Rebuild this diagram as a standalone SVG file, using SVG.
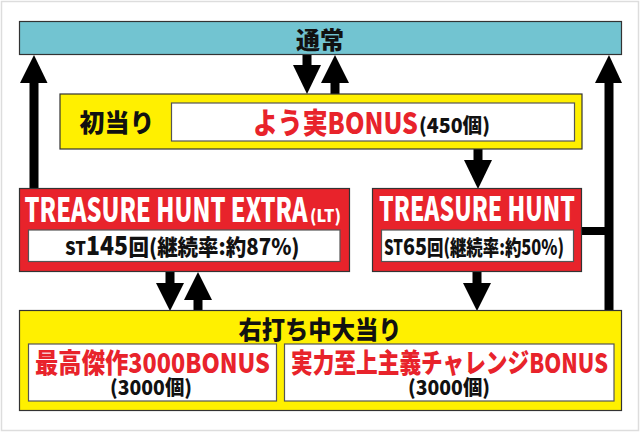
<svg xmlns="http://www.w3.org/2000/svg" width="640" height="432" viewBox="0 0 640 432">
<style>
text{font-family:"Noto Sans CJK JP","Noto Sans",sans-serif;font-weight:900}
.blk{fill:#111}
.red{fill:#E8232B}
.wht{fill:#fff}
.box{stroke:#333;stroke-width:1.2}
.inner{fill:#fff;stroke:#555;stroke-width:1.2}
.arr{fill:#000}
</style>
<rect x="1.5" y="1.5" width="637" height="429" fill="#fff" stroke="#ddd" stroke-width="1.5"/>

<g id="connectors" class="arr">
  <rect x="29.5" y="82" width="9" height="107"/>
  <polygon points="20,83 47.5,83 34,55"/>
  <rect x="302.5" y="54" width="9" height="12"/>
  <polygon points="293,65 321,65 307,94"/>
  <rect x="330.5" y="82" width="9" height="13"/>
  <polygon points="321,83 349,83 335,55"/>
  <rect x="473.5" y="149" width="9" height="12"/>
  <polygon points="464,160 492,160 478,189"/>
  <rect x="165.5" y="271" width="9" height="13"/>
  <polygon points="156,283 184,283 170,311"/>
  <rect x="193.5" y="299" width="9" height="12"/>
  <polygon points="184,300 212,300 198,272"/>
  <rect x="472.5" y="271" width="9" height="13"/>
  <polygon points="463,283 491,283 477,311"/>
  <rect x="604.5" y="82" width="9" height="229"/>
  <polygon points="595,83 622,83 609,55"/>
  <rect x="581" y="227" width="28" height="8"/>
</g>

<g id="tsujo">
  <rect class="box" x="19.5" y="21.5" width="602" height="33" fill="#72C4D1"/>
  <text class="blk" x="320" y="49" font-size="24" text-anchor="middle">通常</text>
</g>

<g id="hatsuatari">
  <rect class="box" x="60" y="94" width="522" height="55" fill="#FFF000"/>
  <text class="blk" x="117" y="132" font-size="25" text-anchor="middle">初当り</text>
  <rect class="inner" x="171.5" y="103" width="403" height="38"/>
  <text class="red" x="253" y="134" font-size="29" textLength="165" lengthAdjust="spacingAndGlyphs">よう実BONUS</text>
  <text class="blk" x="419" y="133" font-size="20" textLength="71" lengthAdjust="spacingAndGlyphs">(450個)</text>
</g>

<g id="th-extra">
  <rect class="box" x="19.5" y="188.5" width="330" height="83" fill="#E8232B"/>
  <text class="wht" x="24.5" y="222" font-size="33" textLength="283" lengthAdjust="spacingAndGlyphs">TREASURE HUNT EXTRA</text>
  <text class="wht" x="310" y="222" font-size="17" textLength="31" lengthAdjust="spacingAndGlyphs">(LT)</text>
  <rect class="inner" x="28.5" y="230" width="311.5" height="31.5"/>
  <text class="blk" x="65" y="255" font-size="19" textLength="21" lengthAdjust="spacingAndGlyphs">ST</text>
  <text class="blk" x="86" y="255" font-size="26" textLength="42" lengthAdjust="spacingAndGlyphs">145</text>
  <text class="blk" x="128.5" y="255" font-size="22" textLength="171" lengthAdjust="spacingAndGlyphs">回(継続率:約87%)</text>
</g>

<g id="th">
  <rect class="box" x="372.5" y="188.5" width="209" height="83" fill="#E8232B"/>
  <text class="wht" x="379" y="221" font-size="33" textLength="196" lengthAdjust="spacingAndGlyphs">TREASURE HUNT</text>
  <rect class="inner" x="381.5" y="230" width="192" height="31.5"/>
  <text class="blk" x="384" y="255" font-size="21" textLength="19" lengthAdjust="spacingAndGlyphs">ST</text>
  <text class="blk" x="403" y="255" font-size="23" textLength="24" lengthAdjust="spacingAndGlyphs">65</text>
  <text class="blk" x="427" y="255" font-size="21" textLength="137" lengthAdjust="spacingAndGlyphs">回(継続率:約50%)</text>
</g>

<g id="migiuchi">
  <rect class="box" x="19.5" y="310.5" width="602" height="100" fill="#FFF000"/>
  <text class="blk" x="320" y="339" font-size="25" text-anchor="middle" textLength="163" lengthAdjust="spacingAndGlyphs">右打ち中大当り</text>
  <rect class="inner" x="28.5" y="344" width="248" height="57"/>
  <text class="red" x="35" y="373" font-size="27" textLength="235" lengthAdjust="spacingAndGlyphs">最高傑作3000BONUS</text>
  <text class="blk" x="110" y="395" font-size="20" textLength="82" lengthAdjust="spacingAndGlyphs">(3000個)</text>
  <rect class="inner" x="284.5" y="344" width="329.5" height="57"/>
  <text class="red" x="291" y="373" font-size="27" textLength="317" lengthAdjust="spacingAndGlyphs">実力至上主義チャレンジBONUS</text>
  <text class="blk" x="408" y="395" font-size="20" textLength="82" lengthAdjust="spacingAndGlyphs">(3000個)</text>
</g>
</svg>
